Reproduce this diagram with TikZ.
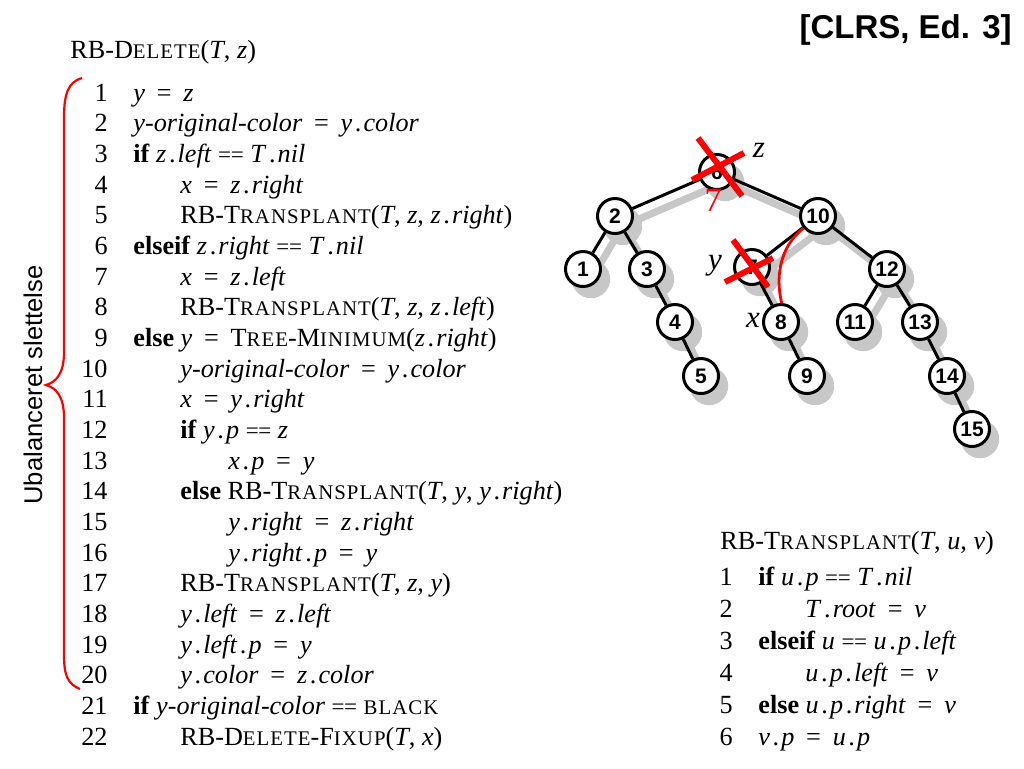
\documentclass[tikz,border=0pt]{standalone}
\usepackage{fontspec}
\setmainfont{Liberation Serif}
\setsansfont{Liberation Sans}
\pgfdeclarelayer{background}
\pgfsetlayers{background,main}
\newcommand\I[1]{\textit{#1}}
\newcommand\B[1]{\textbf{#1}}
\newcommand\SC[1]{{\fontsize{10.4}{11}\selectfont\addfontfeature{LetterSpace=5}#1}}
\newcommand\Eq{\hspace{0.45em}=\hspace{0.45em}}
\newcommand\EE{\hspace{0.25em}{\fontsize{11.5}{10}\selectfont =\kern-0.2pt=}\hspace{0.25em}}
\newcommand\D{\kern0.1em.\kern0.08em}
\tikzset{
  code/.style={anchor=base west, inner sep=0pt, font=\fontsize{13.1}{15}\selectfont},
  num/.style={anchor=base east, inner sep=0pt, font=\fontsize{13.1}{15}\selectfont},
  treenode/.style={circle, draw, line width=1.5pt, fill=white, minimum size=17.5pt, inner sep=0pt, font=\sffamily\bfseries\fontsize{10.5}{10.5}\selectfont},
  edge/.style={line width=1.5pt},
  shadowedge/.style={line width=3.6pt, color=black!22},
  shadowdisk/.style={fill=black!22},
  redcross/.style={red, line width=3pt},
  lbl/.style={font=\itshape\fontsize{15.5}{15}\selectfont, inner sep=0pt}
}
\begin{document}
\begin{tikzpicture}[x=0.5pt,y=-0.5pt]
\useasboundingbox (0,0) rectangle (1024,768);
% header
\node[anchor=north east, inner sep=0pt, font=\sffamily\bfseries\fontsize{16.5}{16}\selectfont] (clrs) at (1012,14) {[CLRS, Ed. 3]};
% RB-DELETE
\node[code] (dtitle) at (70,58) {RB-D\SC{ELETE}(\I{T}, \I{z})};
\foreach \n in {1,...,22} {
  \node[num] (dn\n) at (108,{101+(\n-1)*30.67}) {\n};
}
\node[code] (d1) at (133,101) {\I{y}\Eq\I{z}};
\node[code] (d2) at (133,131.67) {\I{y-original-color}\Eq\I{y}\D\I{color}};
\node[code] (d3) at (133,162.33) {\B{if} \I{z}\D\I{left}\EE\I{T}\D\I{nil}};
\node[code] (d4) at (180,193) {\I{x}\Eq\I{z}\D\I{right}};
\node[code] (d5) at (180,223.67) {RB-T\SC{RANSPLANT}(\I{T}, \I{z}, \I{z}\D\I{right})};
\node[code] (d6) at (133,254.33) {\B{elseif} \I{z}\D\I{right}\EE\I{T}\D\I{nil}};
\node[code] (d7) at (180,285) {\I{x}\Eq\I{z}\D\I{left}};
\node[code] (d8) at (180,315.67) {RB-T\SC{RANSPLANT}(\I{T}, \I{z}, \I{z}\D\I{left})};
\node[code] (d9) at (133,346.33) {\B{else} \I{y}\Eq T\SC{REE}-M\SC{INIMUM}(\I{z}\D\I{right})};
\node[code] (d10) at (180,377) {\I{y-original-color}\Eq\I{y}\D\I{color}};
\node[code] (d11) at (180,407.67) {\I{x}\Eq\I{y}\D\I{right}};
\node[code] (d12) at (180,438.33) {\B{if} \I{y}\D\I{p}\EE\I{z}};
\node[code] (d13) at (228,469) {\I{x}\D\I{p}\Eq\I{y}};
\node[code] (d14) at (180,499.67) {\B{else} RB-T\SC{RANSPLANT}(\I{T}, \I{y}, \I{y}\D\I{right})};
\node[code] (d15) at (228,530.33) {\I{y}\D\I{right}\Eq\I{z}\D\I{right}};
\node[code] (d16) at (228,561) {\I{y}\D\I{right}\D\I{p}\Eq\I{y}};
\node[code] (d17) at (180,591.67) {RB-T\SC{RANSPLANT}(\I{T}, \I{z}, \I{y})};
\node[code] (d18) at (180,622.33) {\I{y}\D\I{left}\Eq\I{z}\D\I{left}};
\node[code] (d19) at (180,653) {\I{y}\D\I{left}\D\I{p}\Eq\I{y}};
\node[code] (d20) at (180,683.67) {\I{y}\D\I{color}\Eq\I{z}\D\I{color}};
\node[code] (d21) at (133,714.33) {\B{if} \I{y-original-color}\EE\SC{BLACK}};
\node[code] (d22) at (180,745) {RB-D\SC{ELETE}-F\SC{IXUP}(\I{T}, \I{x})};
% brace
\draw[red, line width=1.1pt] (82,78) .. controls (68,82) and (64,94) .. (64,118) -- (64,352) .. controls (64,374) and (56,382) .. (46,385) .. controls (56,388) and (64,396) .. (64,418) -- (64,655) .. controls (64,676) and (68,684) .. (80,689);
\node[rotate=90, inner sep=0pt, font=\sffamily\fontsize{12.8}{13}\selectfont] (ubal) at (33,385) {Ubalanceret slettelse};
% RB-TRANSPLANT
\node[code] (ttitle) at (720,549) {RB-T\SC{RANSPLANT}(\I{T}, \I{u}, \I{ν})};
\foreach \n in {1,...,6} {
  \node[num] (tn\n) at (733,{585+(\n-1)*32}) {\n};
}
\node[code] (t1) at (758,585) {\B{if} \I{u}\D\I{p}\EE\I{T}\D\I{nil}};
\node[code] (t2) at (805,617) {\I{T}\D\I{root}\Eq\I{ν}};
\node[code] (t3) at (758,649) {\B{elseif} \I{u}\EE\I{u}\D\I{p}\D\I{left}};
\node[code] (t4) at (805,681) {\I{u}\D\I{p}\D\I{left}\Eq\I{ν}};
\node[code] (t5) at (758,713) {\B{else} \I{u}\D\I{p}\D\I{right}\Eq\I{ν}};
\node[code] (t6) at (758,745) {\I{ν}\D\I{p}\Eq\I{u}\D\I{p}};
% tree nodes
\node[treenode] (k6) at (717,172) {6};
\node[treenode] (k2) at (615,216) {2};
\node[treenode] (k10) at (818,216) {10};
\node[treenode] (k1) at (583,269) {1};
\node[treenode] (k3) at (647,269) {3};
\node[treenode] (k7) at (752,267) {7};
\node[treenode] (k12) at (887,269) {12};
\node[treenode] (k4) at (675,322) {4};
\node[treenode] (k8) at (781,322) {8};
\node[treenode] (k11) at (855,322) {11};
\node[treenode] (k13) at (920,322) {13};
\node[treenode] (k5) at (701,376) {5};
\node[treenode] (k9) at (807,376) {9};
\node[treenode] (k14) at (947,376) {14};
\node[treenode] (k15) at (972,429) {15};
\begin{pgfonlayer}{background}
  \foreach \a/\b in {k6/k2,k6/k10,k2/k1,k2/k3,k3/k4,k4/k5,k10/k7,k7/k8,k8/k9,k10/k12,k12/k11,k12/k13,k13/k14,k14/k15} {
    \draw[shadowedge] ([shift={(4pt,-5pt)}]\a.center) -- ([shift={(4pt,-5pt)}]\b.center);
  }
  \foreach \a in {k6,k2,k10,k1,k3,k7,k12,k4,k8,k11,k13,k5,k9,k14,k15} {
    \fill[shadowdisk] ([shift={(4pt,-5pt)}]\a.center) circle (9.6pt);
  }
  \foreach \a/\b in {k6/k2,k6/k10,k2/k1,k2/k3,k3/k4,k4/k5,k10/k7,k7/k8,k8/k9,k10/k12,k12/k11,k12/k13,k13/k14,k14/k15} {
    \draw[edge] (\a) -- (\b);
  }
\end{pgfonlayer}
% labels
\node[lbl] (lz) at (759,150) {z};
\node[lbl] (ly) at (715,266) {y};
\node[lbl] (lx) at (753,320) {x};
% red marks
\draw[redcross] (698,138) -- (742,196);
\draw[redcross] (692,180) -- (744,153);
\draw[redcross] (733,240) -- (768,287);
\draw[redcross] (725,282) -- (773,258);
\node[red, inner sep=0pt, font=\fontsize{17}{17}\selectfont] (r7) at (713,200) {7};
\draw[red, line width=1.4pt] (k10.220) .. controls (778,248) and (776,280) .. (k8.88);
\end{tikzpicture}
\end{document}
